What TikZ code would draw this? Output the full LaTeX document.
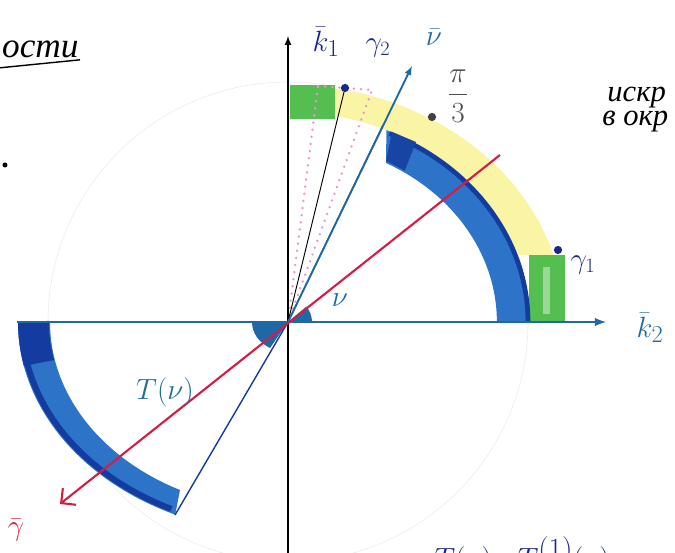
\documentclass[tikz,border=0pt]{standalone}
\usepackage{amsmath,amssymb}
\usepackage{fontspec}
\newfontfamily\cyrfont{Liberation Serif}
\usepackage{tikz}
\usetikzlibrary{arrows.meta,positioning,calc}

\definecolor{bandblue}{RGB}{45,115,200}
\definecolor{bandnavy}{RGB}{20,60,160}
\definecolor{axisblue}{RGB}{30,105,165}
\definecolor{tealtxt}{RGB}{30,110,150}
\definecolor{softyellow}{RGB}{250,244,165}
\definecolor{markgreen}{RGB}{85,190,80}
\definecolor{redline}{RGB}{210,30,70}
\definecolor{pinkdot}{RGB}{235,150,205}
\definecolor{inknavy}{RGB}{25,40,140}

\begin{document}
\begin{tikzpicture}[
    x=0.85pt, y=0.85pt,
    >=latex,
    every node/.style={inner sep=1pt},
    lbl/.style={font=\fontsize{30}{34}\selectfont},
    smalllbl/.style={font=\fontsize{27}{30}\selectfont},
    hand/.style={font=\cyrfont\itshape\fontsize{30}{34}\selectfont},
    dot/.style={circle, fill=inknavy, minimum size=7pt, inner sep=0pt},
    pinkline/.style={pinkdot, line width=2.2pt, line cap=round,
                     dash pattern=on 0.1pt off 6pt},
]
\useasboundingbox (-288,-230) rectangle (387,322);
\clip (-288,-230) rectangle (387,322);

\coordinate (O) at (0,0);

% --- faint pencil circle ---
\draw[black!7, line width=0.6pt] (O) circle[radius=240];

% --- yellow and green marks, first quadrant ---
\fill[softyellow] (265.5,67) arc[start angle=16.4, end angle=80.2,
        x radius=277, y radius=237]
    -- (47,206) arc[start angle=78.8, end angle=18.6,
        x radius=242, y radius=210] -- cycle;
\fill[markgreen] (2,203) rectangle (47,237);
\fill[markgreen] (241,0) rectangle (277,67);
\fill[markgreen!60!white] (255,8) rectangle (262,55);

% --- blue band, first quadrant ---
\fill[bandblue] (242,0) arc[start angle=0, end angle=66,
        x radius=242, y radius=210]
    -- (98,159) arc[start angle=62, end angle=0,
        x radius=209, y radius=180] -- cycle;
\draw[bandnavy, line width=4pt] (240,0) arc[start angle=0, end angle=65,
        x radius=240, y radius=208];
\fill[bandnavy!85!bandblue] (98,161) arc[start angle=62, end angle=56,
        x radius=209, y radius=180]
    -- (128,180) -- (104,190) -- cycle;

% --- blue band, third quadrant ---
\fill[bandblue] (-270,0) arc[start angle=180, end angle=245.3,
        x radius=270, y radius=212]
    -- (-108,-168) arc[start angle=243, end angle=180,
        x radius=238, y radius=188] -- cycle;
\draw[bandnavy, line width=5pt] (-266,0) arc[start angle=180, end angle=244,
        x radius=266, y radius=208];
\fill[bandnavy] (-270,0) arc[start angle=180, end angle=192,
        x radius=270, y radius=212]
    -- (-234,-38) arc[start angle=192, end angle=180,
        x radius=238, y radius=188] -- cycle;

% --- angle marks at the origin ---
\fill[axisblue] (O) -- (24,0) arc[start angle=0, end angle=40, radius=24] -- cycle;
\fill[axisblue] (O) -- (-36,0) arc[start angle=180, end angle=240,
        x radius=36, y radius=30] -- cycle;

% --- pink dotted rays ---
\coordinate (pinkA) at (30,236);
\coordinate (pinkB) at (84,232);
\draw[pinkline] (O) -- (pinkA);
\draw[pinkline] (O) -- (pinkB);
\draw[pinkline] (pinkA) -- (pinkB);

% --- axes ---
\coordinate (vbot) at (0,-235);
\coordinate (k1tip) at (0,286);
\coordinate (hleft) at (-271,0);
\coordinate (k2tip) at (318,0);
\draw[->, black, line width=1.6pt] (vbot) -- (k1tip);
\draw[->, axisblue, line width=2.2pt] (hleft) -- (k2tip);

% --- rays ---
\node[dot] (g2) at (57,234) {};
\coordinate (secEnd) at (95,197);
\coordinate (nuTip) at (124,256);
\coordinate (lowEnd) at (-113,-193);
\draw[black, line width=0.8pt] (O) -- (g2);
\draw[black, line width=0.9pt] (O) -- (secEnd);
\draw[->, axisblue, line width=1.6pt] (O) -- (nuTip);
\draw[bandnavy, line width=1.2pt] (O) -- (lowEnd);

% --- red line ---
\coordinate (redA) at (212,167);
\coordinate (redB) at (-228,-182);
\draw[redline, line width=1.8pt, -{Straight Barb[length=9pt, width=18pt]}]
    (redA) -- (redB);

% --- dots ---
\node[dot, fill=black!75] (pidot) at (144,205) {};
\node[dot] (g1dot) at (270,72) {};
\fill[black] (-283,157) circle[radius=2.5];

% --- labels ---
\node[lbl, text=inknavy] (k1) at (38,280) {$\bar{k}_1$};
\node[lbl, text=axisblue] (k2) at (362,-6) {$\bar{k}_2$};
\node[lbl, text=axisblue] (nu) at (146,285) {$\bar{\nu}$};
\node[smalllbl, text=inknavy] (g2lbl) at (90,274) {$\gamma_2$};
\node[smalllbl, text=inknavy] (g1lbl) at (295,57) {$\gamma_1$};
\node[smalllbl, text=black!70] (pi3) at (170,226) {$\dfrac{\pi}{3}$};
\node[smalllbl, text=axisblue] (nuang) at (52,22) {$\nu$};
\node[font=\fontsize{34}{38}\selectfont, text=tealtxt] (Tnu) at (-123,-70) {$T(\nu)$};
\node[font=\fontsize{32}{36}\selectfont, text=redline] (gbar) at (-272,-208) {$\bar{\gamma}$};
\node[font=\fontsize{36}{40}\selectfont, text=inknavy, anchor=north west]
    (Tbot) at (145,-213) {$T(\nu),\ T^{(1)}(\nu)$};

% --- handwritten notes ---
\node[hand, anchor=base east] (title) at (-208,264) {ости};
\draw[black, line width=1.2pt] (-290,254) -- (title.south east);
\node[hand, font=\cyrfont\itshape\fontsize{26}{30}\selectfont,
      anchor=base west] (note1) at (318,220) {искр};
\node[hand, font=\cyrfont\itshape\fontsize{26}{30}\selectfont,
      anchor=base west] (note2) at (313,196) {в окр};

\end{tikzpicture}
\end{document}
